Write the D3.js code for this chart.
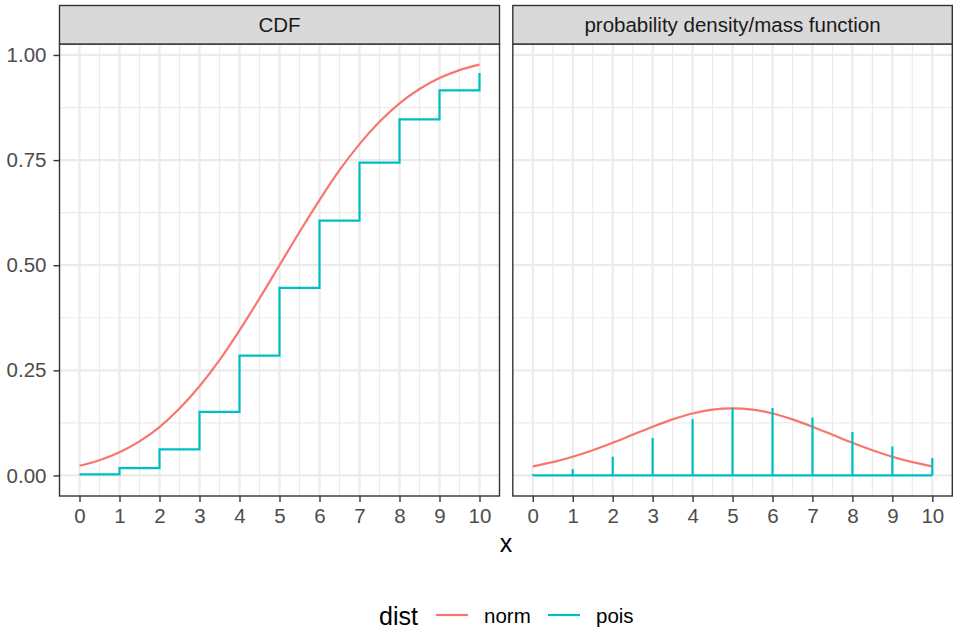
<!DOCTYPE html>
<html><head><meta charset="utf-8">
<script src="https://cdn.jsdelivr.net/npm/d3@7"></script>
<style>
body{margin:0;background:#fff}
svg text{font-family:"Liberation Sans",Arial,Helvetica,sans-serif}
</style></head>
<body><svg id="chart" width="953" height="629"></svg>
<script>
// values
const normX = [0,0.5,1,1.5,2,2.5,3,3.5,4,4.5,5,5.5,6,6.5,7,7.5,8,8.5,9,9.5,10];
const normCdf = [0.023,0.036,0.055,0.081,0.115,0.159,0.212,0.274,0.345,0.421,0.5,0.579,0.655,0.726,0.788,0.841,0.885,0.919,0.945,0.964,0.977];
const normPdf = [0.0216,0.0316,0.0444,0.0599,0.0777,0.0968,0.1159,0.1333,0.1473,0.1564,0.1596,0.1564,0.1473,0.1333,0.1159,0.0968,0.0777,0.0599,0.0444,0.0316,0.0216];
const poisX = [0,1,2,3,4,5,6,7,8,9,10];
const poisCdf = [0.0025,0.0174,0.062,0.151,0.285,0.446,0.606,0.744,0.847,0.916,0.957];
const poisPmf = [0.0025,0.0149,0.0446,0.0892,0.1339,0.1606,0.1606,0.1377,0.1033,0.0688,0.0413];
const facets = ["CDF", "probability density/mass function"];
const dists = ["norm", "pois"];
const xTicks = [0,1,2,3,4,5,6,7,8,9,10];
const yTicks = [0,0.25,0.5,0.75,1];
const yMinor = [0.125,0.375,0.625,0.875];

const COL = {norm: "#F8766D", pois: "#00BFC4"};
const TOP = 44, BOT = 496, STRIP_TOP = 5.5, PANELS = [[59.5, 499.5], [512.8, 952.3]];
const FS = 20.5;
const svg = d3.select("#chart");
const y = d3.scaleLinear().domain([-0.0489, 1.0261]).range([BOT, TOP]);
const xMinor = d3.range(0.5, 10, 1);

facets.forEach((name, i) => {
    const [l, r] = PANELS[i];
    const x = d3.scaleLinear().domain([-0.5, 10.5]).range([l, r]);
    const g = svg.append("g");
    g.append("rect").attr("x", l).attr("y", TOP).attr("width", r - l).attr("height", BOT - TOP).attr("fill", "#fff");
    // grid
    g.selectAll(".vminor").data(xMinor).enter().append("line").attr("x1", d => x(d)).attr("x2", d => x(d)).attr("y1", TOP).attr("y2", BOT).attr("stroke", "#EBEBEB").attr("stroke-width", 1.2);
    g.selectAll(".hminor").data(yMinor).enter().append("line").attr("x1", l).attr("x2", r).attr("y1", d => y(d)).attr("y2", d => y(d)).attr("stroke", "#EBEBEB").attr("stroke-width", 1.2);
    g.selectAll(".vmajor").data(xTicks).enter().append("line").attr("x1", d => x(d)).attr("x2", d => x(d)).attr("y1", TOP).attr("y2", BOT).attr("stroke", "#EBEBEB").attr("stroke-width", 2.2);
    g.selectAll(".hmajor").data(yTicks).enter().append("line").attr("x1", l).attr("x2", r).attr("y1", d => y(d)).attr("y2", d => y(d)).attr("stroke", "#EBEBEB").attr("stroke-width", 2.2);

    const smooth = d3.line().x(d => x(d[0])).y(d => y(d[1])).curve(d3.curveMonotoneX);
    if (i === 0) {
        g.append("path").datum(d3.zip(normX, normCdf)).attr("d", smooth).attr("fill", "none").attr("stroke", COL.norm).attr("stroke-width", 2.2);
        g.append("path").datum(d3.zip(poisX, poisCdf)).attr("d", d3.line().x(d => x(d[0])).y(d => y(d[1])).curve(d3.curveStepAfter)).attr("fill", "none").attr("stroke", COL.pois).attr("stroke-width", 2.2);
    } else {
        g.append("path").datum(d3.zip(normX, normPdf)).attr("d", smooth).attr("fill", "none").attr("stroke", COL.norm).attr("stroke-width", 2.2);
        g.append("line").attr("x1", x(poisX[0])).attr("x2", x(poisX[poisX.length - 1])).attr("y1", y(0)).attr("y2", y(0)).attr("stroke", COL.pois).attr("stroke-width", 2.2);
        g.selectAll(".pmf").data(d3.zip(poisX, poisPmf)).enter().append("line").attr("x1", d => x(d[0])).attr("x2", d => x(d[0])).attr("y1", y(0)).attr("y2", d => y(d[1])).attr("stroke", COL.pois).attr("stroke-width", 2.2);
    }
    g.append("rect").attr("x", l).attr("y", TOP).attr("width", r - l).attr("height", BOT - TOP).attr("fill", "none").attr("stroke", "#333").attr("stroke-width", 1.4);
    // strip
    g.append("rect").attr("x", l).attr("y", STRIP_TOP).attr("width", r - l).attr("height", TOP - STRIP_TOP).attr("fill", "#D9D9D9").attr("stroke", "#333").attr("stroke-width", 1.4);
    g.append("text").attr("x", (l + r) / 2).attr("y", 25.3).attr("dy", "0.35em").attr("text-anchor", "middle").attr("font-size", FS).attr("fill", "#1A1A1A").text(name);
    // x axis
    const xa = g.append("g").attr("transform", `translate(0,${BOT})`)
        .call(d3.axisBottom(x).tickValues(xTicks).tickSize(6).tickPadding(6).tickFormat(d3.format("d")));
    xa.select(".domain").remove();
    xa.selectAll(".tick line").attr("stroke", "#333").attr("stroke-width", 1.4);
    xa.selectAll(".tick text").attr("font-size", FS).attr("fill", "#4D4D4D").attr("font-family", null);
    if (i === 0) {
        const ya = g.append("g").attr("transform", `translate(${l},0)`)
            .call(d3.axisLeft(y).tickValues(yTicks).tickSize(6).tickPadding(7).tickFormat(d3.format(".2f")));
        ya.select(".domain").remove();
        ya.selectAll(".tick line").attr("stroke", "#333").attr("stroke-width", 1.4);
        ya.selectAll(".tick text").attr("font-size", FS).attr("fill", "#4D4D4D").attr("font-family", null);
    }
});

svg.append("text").attr("x", (PANELS[0][0] + PANELS[1][1]) / 2).attr("y", 552).attr("text-anchor", "middle").attr("font-size", 25).attr("fill", "#000").text("x");

// legend
const lg = svg.append("g");
lg.append("text").attr("x", 379).attr("y", 625).attr("font-size", 25).text("dist");
const keyX = [436, 548];
dists.forEach((d, i) => {
    lg.append("line").attr("x1", keyX[i]).attr("x2", keyX[i] + 32).attr("y1", 615).attr("y2", 615).attr("stroke", COL[d]).attr("stroke-width", 2.2);
    lg.append("text").attr("x", keyX[i] + 48).attr("y", 622.5).attr("font-size", FS).attr("fill", "#000").text(d);
});
</script></body></html>
